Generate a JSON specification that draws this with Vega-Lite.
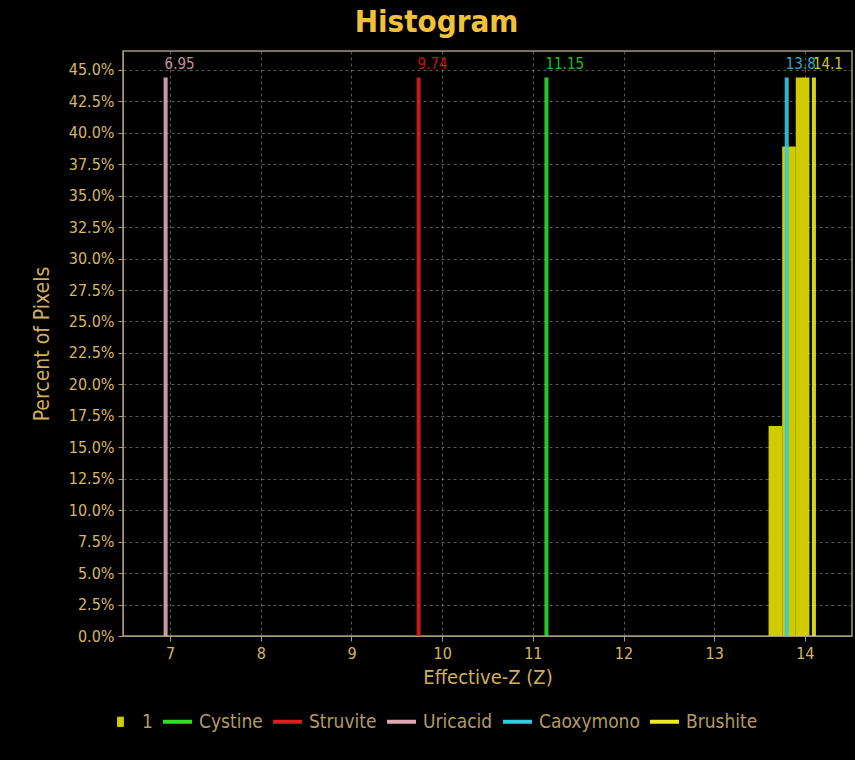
{
  "$schema": "https://vega.github.io/schema/vega-lite/v6.json",
  "autosize": {"type": "none"},
  "padding": {"left": 123, "top": 51, "right": 3, "bottom": 124},
  "width": 729,
  "height": 585,
  "background": "#000000",
  "title": {
    "text": "Histogram",
    "color": "#f2c13a",
    "font": "DejaVu Sans Condensed",
    "fontSize": 31,
    "fontWeight": "bold",
    "anchor": "middle",
    "dx": -51,
    "offset": 12
  },
  "config": {
    "view": {"stroke": "#a89878", "strokeWidth": 1.5},
    "font": "DejaVu Sans Condensed",
    "axis": {
      "labelColor": "#d8b65e",
      "titleColor": "#d2ae5c",
      "labelFont": "DejaVu Sans Condensed",
      "titleFont": "DejaVu Sans Condensed",
      "labelFontSize": 16,
      "titleFontSize": 20,
      "titleFontWeight": "normal",
      "labelOverlap": false,
      "gridColor": "#8a8a8a",
      "gridDash": [3, 3],
      "gridWidth": 0.8,
      "gridOpacity": 0.8,
      "domainColor": "#a89878",
      "tickColor": "#a89878",
      "tickSize": 5
    }
  },
  "datasets": {
    "hist": [
      {"x0": 13.6, "x1": 13.75, "pct": 0.167, "series": "1"},
      {"x0": 13.75, "x1": 13.9, "pct": 0.389, "series": "1"},
      {"x0": 13.9, "x1": 14.05, "pct": 0.444, "series": "1"}
    ],
    "lines": [
      {"z": 6.95, "pct": 0.444, "base": 0, "top": 0.4545, "series": "Uricacid", "label": "6.95"},
      {"z": 9.74, "pct": 0.444, "base": 0, "top": 0.4545, "series": "Struvite", "label": "9.74"},
      {"z": 11.15, "pct": 0.444, "base": 0, "top": 0.4545, "series": "Cystine", "label": "11.15"},
      {"z": 13.8, "pct": 0.444, "base": 0, "top": 0.4545, "series": "Caoxymono", "label": "13.8"},
      {"z": 14.1, "pct": 0.444, "base": 0, "top": 0.4545, "series": "Brushite", "label": "14.1"}
    ]
  },
  "layer": [
    {
      "data": {"name": "hist"},
      "mark": {"type": "rect", "color": "#c9c400"},
      "encoding": {
        "x": {
          "field": "x0", "type": "quantitative",
          "scale": {"domain": [6.48, 14.52], "nice": false, "zero": false},
          "axis": {
            "values": [7, 8, 9, 10, 11, 12, 13, 14],
            "format": "d",
            "title": "Effective-Z (Z)",
            "grid": true,
            "titlePadding": 6,
            "labelPadding": 4
          }
        },
        "x2": {"field": "x1"},
        "y": {
          "field": "pct", "type": "quantitative",
          "scale": {"domain": [0, 0.465], "nice": false},
          "axis": {
            "values": [0, 0.025, 0.05, 0.075, 0.1, 0.125, 0.15, 0.175, 0.2, 0.225, 0.25, 0.275, 0.3, 0.325, 0.35, 0.375, 0.4, 0.425, 0.45],
            "format": ".1%",
            "title": "Percent of Pixels",
            "titleFontSize": 21,
            "grid": true,
            "titlePadding": 16,
            "labelPadding": 4
          }
        },
        "y2": {"datum": 0},
        "color": {
          "field": "series", "type": "nominal",
          "scale": {
            "domain": ["1", "Cystine", "Struvite", "Uricacid", "Caoxymono", "Brushite"],
            "range": ["#cfcb00", "#2fdc2f", "#e01c1c", "#e2a8b2", "#2fcde2", "#ecea1e"]
          },
          "legend": {
            "title": null,
            "orient": "none",
            "direction": "horizontal",
            "legendX": -12,
            "legendY": 661,
            "symbolType": "stroke",
            "symbolStrokeWidth": 4,
            "symbolSize": 841,
            "labelColor": "#b49a62",
            "labelFontSize": 19,
            "labelFont": "DejaVu Sans Condensed",
            "columnPadding": 2,
            "labelOffset": 12,
            "encode": {
              "symbols": {
                "update": {
                  "shape": {"signal": "datum.label === '1' ? 'M-0.2,-0.32L0.2,-0.32L0.2,0.32L-0.2,0.32Z' : 'stroke'"},
                  "fill": {"signal": "datum.label === '1' ? '#ecea1e' : 'transparent'"},
                  "strokeWidth": {"signal": "datum.label === '1' ? 1 : 4"}
                }
              }
            }
          }
        }
      }
    },
    {
      "data": {"name": "lines"},
      "mark": {"type": "rule", "strokeWidth": 4, "opacity": 0.9},
      "encoding": {
        "x": {
          "field": "z", "type": "quantitative",
          "axis": {
            "values": [7, 8, 9, 10, 11, 12, 13, 14],
            "format": "d",
            "title": "Effective-Z (Z)",
            "grid": true,
            "titlePadding": 6,
            "labelPadding": 4
          }
        },
        "y": {
          "field": "base", "type": "quantitative",
          "axis": {
            "values": [0, 0.025, 0.05, 0.075, 0.1, 0.125, 0.15, 0.175, 0.2, 0.225, 0.25, 0.275, 0.3, 0.325, 0.35, 0.375, 0.4, 0.425, 0.45],
            "format": ".1%",
            "title": "Percent of Pixels",
            "titleFontSize": 21,
            "grid": true,
            "titlePadding": 16,
            "labelPadding": 4
          }
        },
        "y2": {"field": "pct"},
        "color": {"field": "series", "type": "nominal"}
      }
    },
    {
      "data": {"name": "lines"},
      "mark": {"type": "text", "align": "left", "baseline": "middle", "dx": -1, "fontSize": 15, "opacity": 0.85},
      "encoding": {
        "x": {
          "field": "z", "type": "quantitative",
          "axis": {
            "values": [7, 8, 9, 10, 11, 12, 13, 14],
            "format": "d",
            "title": "Effective-Z (Z)",
            "grid": true,
            "titlePadding": 6,
            "labelPadding": 4
          }
        },
        "y": {
          "field": "top", "type": "quantitative",
          "axis": {
            "values": [0, 0.025, 0.05, 0.075, 0.1, 0.125, 0.15, 0.175, 0.2, 0.225, 0.25, 0.275, 0.3, 0.325, 0.35, 0.375, 0.4, 0.425, 0.45],
            "format": ".1%",
            "title": "Percent of Pixels",
            "titleFontSize": 21,
            "grid": true,
            "titlePadding": 16,
            "labelPadding": 4
          }
        },
        "text": {"field": "label"},
        "color": {"field": "series", "type": "nominal"}
      }
    }
  ]
}
